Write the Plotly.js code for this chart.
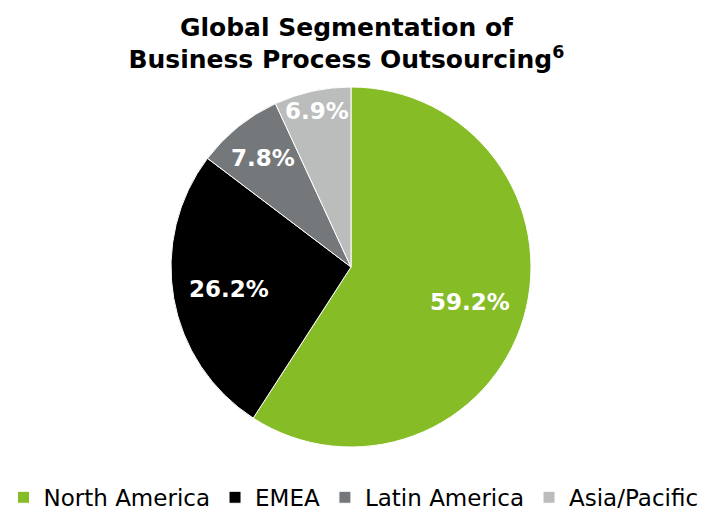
<!DOCTYPE html>
<html><head><meta charset="utf-8">
<script src="https://cdn.plot.ly/plotly-3.0.1.min.js"></script>
<style>html,body{margin:0;padding:0;background:#fff}</style>
</head><body>
<div id="chart" style="width:707px;height:510px"></div>
<script>
const regions = ["North America", "EMEA", "Latin America", "Asia/Pacific"];
const shares = [59.2, 26.2, 7.8, 6.9];
const colors = ["#86BC25", "#000000", "#75787B", "#BBBCBC"];
// radial position of each in-slice label, as a fraction of the pie radius
const labelRadius = [0.69, 0.69, 0.78, 0.89];

const W = 707, H = 510;
const margin = {l: 0, r: 5, t: 87, b: 63};
const plotW = W - margin.l - margin.r, plotH = H - margin.t - margin.b;
const R = Math.min(plotW, plotH) / 2;

const trace = {
  type: "pie",
  labels: regions,
  values: shares,
  sort: false,
  direction: "clockwise",
  rotation: 0,
  marker: {colors: colors, line: {color: "#ffffff", width: 1}},
  textinfo: "none",
  hoverinfo: "none"
};

// label annotations placed at each slice's mid-angle
const total = shares.reduce((a, b) => a + b, 0);
let cum = 0;
const annotations = shares.map((v, i) => {
  const mid = (cum + v / 2) / total * 2 * Math.PI;
  cum += v;
  const dx = Math.sin(mid) * R * labelRadius[i];
  const dy = Math.cos(mid) * R * labelRadius[i];
  return {
    xref: "paper", yref: "paper",
    x: 0.5 + dx / plotW, y: 0.5 + dy / plotH,
    text: "<b>" + v.toFixed(1) + "%</b>",
    showarrow: false,
    font: {family: "DejaVu Sans", size: 23, color: "#ffffff"},
    xanchor: "center", yanchor: "middle"
  };
});

const layout = {
  width: W, height: H,
  margin: margin,
  paper_bgcolor: "#ffffff",
  title: {
    text: "<b>Global Segmentation of<br>Business Process Outsourcing<sup>6</sup></b>",
    font: {family: "DejaVu Sans", size: 25, color: "#000000"},
    x: 0.49, xanchor: "center", yref: "container", y: 0.93, yanchor: "top"
  },
  annotations: annotations,
  showlegend: true,
  legend: {
    orientation: "h", xref: "container", x: 0.5, xanchor: "center",
    yref: "container", y: 0.067, yanchor: "top",
    font: {family: "DejaVu Sans", size: 23, color: "#000000"},
    itemwidth: 30,
    traceorder: "normal"
  }
};

Plotly.newPlot("chart", [trace], layout, {displayModeBar: false, staticPlot: true});
</script>
</body></html>
